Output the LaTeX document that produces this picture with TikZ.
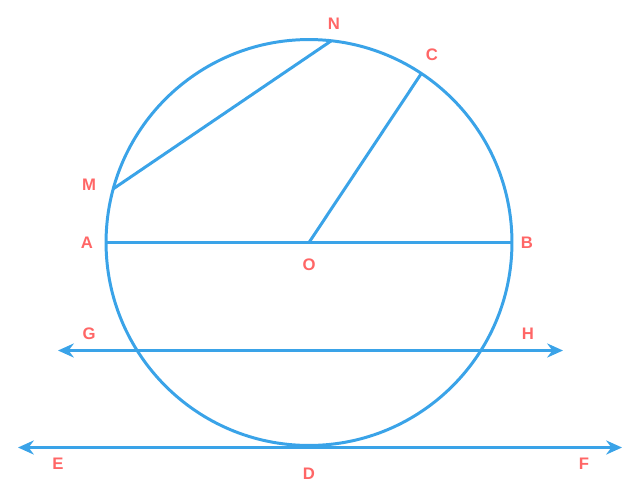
\documentclass[tikz,border=0pt]{standalone}
\usepackage{fontspec}
\setmainfont{Liberation Sans}
\usetikzlibrary{arrows.meta}
\definecolor{lineblue}{RGB}{58,163,232}
\definecolor{labelred}{RGB}{255,102,102}

\begin{document}
\begin{tikzpicture}[x=0.02cm, y=-0.02cm,
    geom/.style={line width=1.7pt, draw=lineblue},
    lbl/.style={text=labelred, font=\fontsize{9.5}{10}\selectfont\bfseries, inner sep=0pt},
    twoway/.style={geom, {Stealth[length=9pt,width=8pt]}-{Stealth[length=9pt,width=8pt]}}]
    \useasboundingbox (0,0) rectangle (641,500);
    \coordinate (O) at (309,242.5);
    \draw[geom] (O) circle[radius=4.06cm];
    % points on the circle
    \coordinate (A) at (106,242.5);
    \coordinate (B) at (512,242.5);
    \coordinate (N) at (331,41);
    \coordinate (C) at (421,74);
    \coordinate (M) at (113,189);
    \coordinate (D) at (309,446);
    \draw[geom] (A) -- (B);
    \draw[geom] (O) -- (C);
    \draw[geom] (M) -- (N);
    % the two lines
    \coordinate (G) at (58,350.5);
    \coordinate (H) at (563,350.5);
    \coordinate (E) at (18,447.5);
    \coordinate (F) at (622,447.5);
    \draw[twoway] (G) -- (H);
    \draw[twoway] (E) -- (F);
    % labels
    \node[lbl] (lN) at (334,24) {N};
        \node[lbl] (lC) at (432,55) {C};
    \node[lbl] (lM) at (89,185) {M};
        \node[lbl] (lA) at (87,243) {A};
    \node[lbl] (lB) at (527,243) {B};
        \node[lbl] (lO) at (309,265) {O};
    \node[lbl] (lG) at (89,334) {G};
        \node[lbl] (lH) at (528,334) {H};
    \node[lbl] (lE) at (58,464) {E};
        \node[lbl] (lD) at (309,474) {D};
    \node[lbl] (lF) at (584,464) {F};
\end{tikzpicture}
\end{document}
